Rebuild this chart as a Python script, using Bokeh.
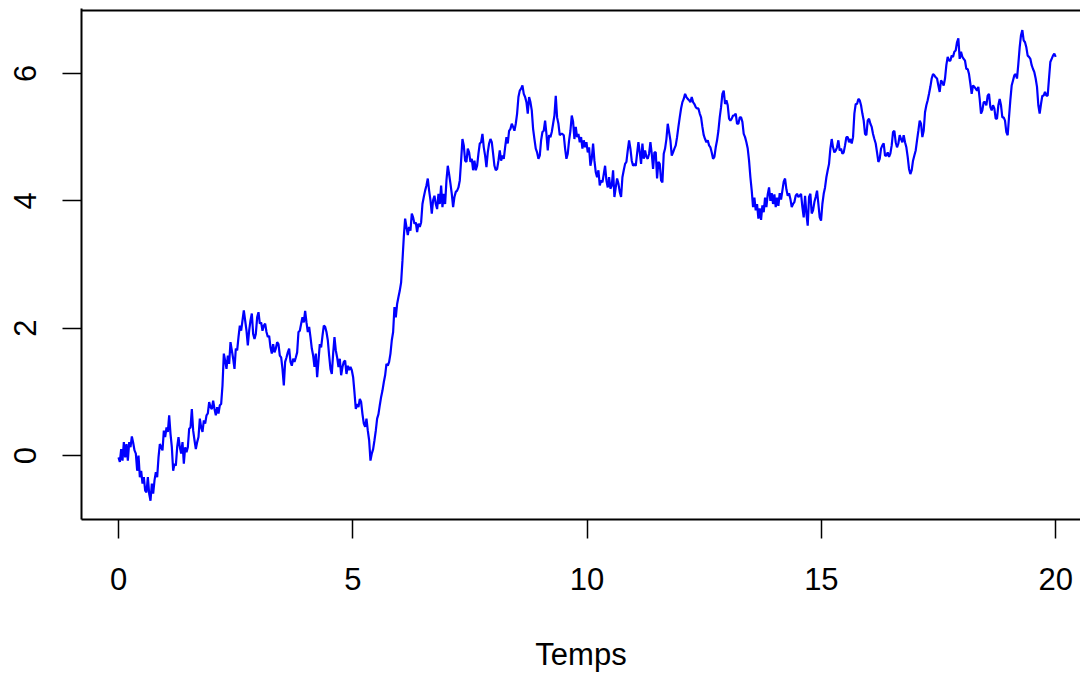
import numpy as np
from bokeh.plotting import figure
from bokeh.models import Range1d, FixedTicker, Span
from bokeh.embed import file_html
from bokeh.resources import INLINE

# Brownian path, t from 0 to 20 on a regular grid
w_part1 = [-0.03, -0.10, 0.10, -0.08, 0.21, -0.03, 0.18, -0.08, 0.21, 0.13,
           0.30, 0.20, 0.08, 0.03, -0.24, 0.00, -0.34, -0.24, -0.44, -0.34,
           -0.55, -0.58, -0.34, -0.60, -0.71, -0.44, -0.60, -0.39, -0.26, -0.34,
           -0.03, 0.18, 0.13, 0.08, 0.39, 0.29, 0.44, 0.37, 0.63, 0.34,
           0.13, -0.24, -0.13, -0.16, 0.13, 0.29, 0.13, 0.03, 0.21, -0.13,
           0.13, 0.05, 0.13, 0.42, 0.44, 0.73, 0.39, 0.24, 0.10, 0.21,
           0.29, 0.58, 0.44, 0.37, 0.55, 0.50, 0.63, 0.66, 0.84, 0.76,
           0.73, 0.86, 0.73, 0.63, 0.76, 0.66, 0.79, 0.81, 1.10, 1.60,
           1.49, 1.36, 1.57, 1.44, 1.78, 1.65, 1.52, 1.36, 1.68, 1.65,
           1.86, 2.04, 1.96, 2.12, 2.28, 2.12, 1.96, 1.73, 1.96]
w_part2 = [2.12, 2.23, 1.91, 1.83, 1.91, 2.17, 2.25, 2.07, 2.09, 1.96,
           2.04, 2.07, 1.94, 1.86, 1.88, 1.70, 1.60, 1.75, 1.62, 1.68,
           1.78, 1.75, 1.57, 1.54, 1.36, 1.10, 1.47, 1.54, 1.62, 1.68,
           1.47, 1.41, 1.52, 1.47, 1.54, 1.62, 1.94, 1.96, 2.07, 2.17,
           2.09, 2.27, 2.09, 1.94, 2.02, 1.86, 1.68, 1.57, 1.39, 1.60,
           1.23, 1.49, 1.75, 1.70, 1.88, 2.04, 2.02, 1.94, 1.81, 1.57,
           1.36, 1.28, 1.60, 1.86, 1.65, 1.54, 1.39, 1.52, 1.26, 1.39,
           1.47, 1.49, 1.28, 1.41, 1.34, 1.39, 1.34, 1.23, 0.99, 0.73,
           0.81, 0.76, 0.89, 0.84, 0.65, 0.50, 0.45, 0.58, 0.39, 0.24,
           -0.08, 0.03, 0.10, 0.24, 0.39, 0.58, 0.65, 0.79, 0.92, 1.02,
           1.15, 1.26]
w_part3 = [1.44, 1.41, 1.47, 1.60, 1.81, 1.94, 2.33, 2.17, 2.38, 2.49,
           2.59, 2.72, 3.06, 3.43, 3.72, 3.59, 3.46, 3.59, 3.53, 3.80,
           3.74, 3.64, 3.66, 3.51, 3.64, 3.59, 3.66, 3.95, 4.06, 4.16,
           4.24, 4.35, 4.16, 4.01, 3.80, 4.01, 4.08, 3.95, 3.87, 4.11,
           3.95, 4.24, 3.90, 4.11, 3.95, 4.32, 4.55, 4.42, 4.27, 4.11,
           3.90, 4.06, 4.14, 4.16, 4.21, 4.32, 4.63, 4.97, 4.87, 4.63,
           4.61, 4.82, 4.76, 4.61, 4.66, 4.48, 4.63, 4.48, 4.55, 4.74,
           4.90, 4.92, 5.05, 4.84, 4.71, 4.53, 4.76, 4.90, 4.97, 4.92,
           4.74, 4.55, 4.48, 4.50, 4.63, 4.79, 4.63, 4.71, 4.66, 4.84,
           5.00, 4.90, 5.10, 5.13, 5.21, 5.16, 5.10, 5.21, 5.37, 5.63,
           5.73]
w_part4 = [5.76, 5.81, 5.68, 5.63, 5.55, 5.37, 5.63, 5.55, 5.42, 5.13,
           4.97, 4.82, 4.76, 4.66, 4.71, 4.95, 5.08, 5.10, 5.26, 5.05,
           4.79, 5.03, 5.00, 5.08, 5.21, 5.34, 5.65, 5.31, 5.21, 5.03,
           5.05, 5.05, 5.03, 4.82, 4.66, 4.74, 4.95, 5.10, 5.34, 5.24,
           4.97, 5.16, 5.00, 5.05, 4.92, 5.00, 4.82, 4.95, 4.84, 4.92,
           4.76, 4.84, 4.55, 4.66, 4.90, 4.63, 4.45, 4.37, 4.48, 4.24,
           4.32, 4.29, 4.42, 4.55, 4.32, 4.21, 4.37, 4.19, 4.24, 4.48,
           4.06, 4.21, 4.35, 4.27, 4.14, 4.06, 4.37, 4.48, 4.58, 4.61,
           4.79, 4.95, 4.82, 4.63, 4.55, 4.58, 4.55, 4.74, 4.92, 4.76,
           4.58, 4.90, 4.66, 4.79, 4.69, 4.66, 4.74, 4.92, 4.74, 4.50,
           4.76]
w_part5 = [4.76, 4.35, 4.61, 4.58, 4.32, 4.29, 4.74, 4.82, 4.97, 5.21,
           5.08, 4.95, 4.71, 4.76, 4.82, 4.87, 5.00, 5.16, 5.31, 5.45,
           5.55, 5.60, 5.68, 5.63, 5.60, 5.58, 5.55, 5.63, 5.55, 5.52,
           5.47, 5.45, 5.45, 5.37, 5.31, 5.16, 5.03, 4.97, 4.92, 4.95,
           4.87, 4.84, 4.76, 4.66, 4.69, 4.84, 4.95, 5.10, 5.31, 5.47,
           5.68, 5.73, 5.52, 5.58, 5.50, 5.29, 5.26, 5.29, 5.34, 5.34,
           5.37, 5.21, 5.21, 5.31, 5.31, 5.24, 5.05, 5.00, 4.92, 4.82,
           4.63, 4.37, 4.16, 3.90, 4.05, 3.85, 3.95, 3.72, 3.88, 3.70,
           3.93, 3.82, 4.05, 3.90, 4.10, 4.21, 4.00, 4.12, 3.95, 4.10,
           3.90, 4.05, 3.92, 4.12, 4.02, 4.16, 4.30, 4.35, 4.18, 4.08,
           4.12, 4.03]
w_part6 = [3.90, 3.95, 3.98, 4.08, 4.11, 4.06, 4.08, 4.11, 3.90, 3.74,
           4.08, 3.80, 3.61, 4.06, 4.11, 3.80, 3.85, 3.98, 4.06, 4.16,
           3.95, 3.74, 3.69, 3.95, 4.11, 4.21, 4.37, 4.48, 4.58, 4.82,
           4.97, 4.84, 4.76, 4.79, 4.84, 4.95, 4.79, 4.82, 4.74, 4.76,
           4.87, 5.00, 5.00, 4.92, 4.97, 4.90, 5.00, 5.37, 5.52, 5.52,
           5.60, 5.58, 5.50, 5.37, 5.26, 5.05, 5.03, 5.26, 5.29, 5.21,
           5.16, 5.05, 4.97, 4.90, 4.76, 4.61, 4.66, 4.82, 4.87, 4.90,
           4.71, 4.71, 4.76, 4.69, 4.74, 4.87, 5.08, 5.10, 4.92, 4.84,
           4.90, 5.03, 4.97, 4.92, 5.03, 4.92, 4.84, 4.69, 4.50, 4.42,
           4.48, 4.63, 4.71, 4.79, 4.95, 5.10, 5.26, 5.21, 5.00, 5.10,
           5.39]
w_part7 = [5.50, 5.58, 5.68, 5.79, 5.92, 5.99, 5.97, 5.94, 5.92, 5.81,
           5.71, 5.89, 5.86, 5.81, 5.92, 6.13, 6.26, 6.20, 6.20, 6.28,
           6.26, 6.34, 6.36, 6.49, 6.55, 6.23, 6.34, 6.26, 6.23, 6.20,
           6.07, 6.07, 5.99, 5.84, 5.68, 5.81, 5.79, 5.76, 5.73, 5.79,
           5.60, 5.37, 5.42, 5.55, 5.55, 5.50, 5.65, 5.68, 5.47, 5.42,
           5.50, 5.45, 5.29, 5.29, 5.50, 5.60, 5.50, 5.31, 5.31, 5.26,
           5.08, 5.03, 5.31, 5.58, 5.81, 5.89, 5.97, 5.99, 5.92, 6.15,
           6.41, 6.60, 6.68, 6.52, 6.49, 6.41, 6.28, 6.26, 6.23, 6.13,
           6.07, 6.02, 5.92, 5.79, 5.50, 5.37, 5.52, 5.65, 5.65, 5.71,
           5.65, 5.65, 5.92, 6.18, 6.23, 6.28, 6.31, 6.26]

x_ticks = [0, 5, 10, 15, 20]
y_ticks = [0, 2, 4, 6]
x_title = "Temps"

values = w_part1 + w_part2 + w_part3 + w_part4 + w_part5 + w_part6 + w_part7
times = np.linspace(0, 20, len(values))

p = figure(width=1080, height=677, output_backend="svg", toolbar_location=None,
           x_range=Range1d(-0.79, 20.53), y_range=Range1d(-1.005, 7.02),
           min_border_left=81, min_border_right=0, min_border_top=8,
           min_border_bottom=158)
p.outline_line_color = None
p.grid.visible = False
p.background_fill_color = "white"
p.border_fill_color = "white"

p.line(times, values, line_color="#0000FF", line_width=2.2)

for ax in (p.xaxis[0], p.yaxis[0]):
    ax.axis_line_width = 2
    ax.axis_line_color = "black"
    ax.major_tick_in = 0
    ax.major_tick_out = 19
    ax.major_tick_line_width = 1.5
    ax.major_tick_line_color = "black"
    ax.minor_tick_line_color = None
    ax.major_label_text_font = "Liberation Sans"
    ax.major_label_text_font_size = "31px"
    ax.major_label_text_color = "black"

p.xaxis.ticker = FixedTicker(ticks=x_ticks)
p.yaxis.ticker = FixedTicker(ticks=y_ticks)
p.yaxis.major_label_orientation = "vertical"
p.xaxis.major_label_standoff = 29
p.yaxis.major_label_standoff = 26

p.xaxis.axis_label = x_title
p.xaxis.axis_label_text_font = "Liberation Sans"
p.xaxis.axis_label_text_font_size = "31px"
p.xaxis.axis_label_text_font_style = "normal"
p.xaxis.axis_label_text_color = "black"
p.xaxis.axis_label_standoff = 44

top = Span(location=6.99, dimension="width", line_color="black", line_width=2)
p.add_layout(top)

open("out.html", "w").write(file_html(p, INLINE))
